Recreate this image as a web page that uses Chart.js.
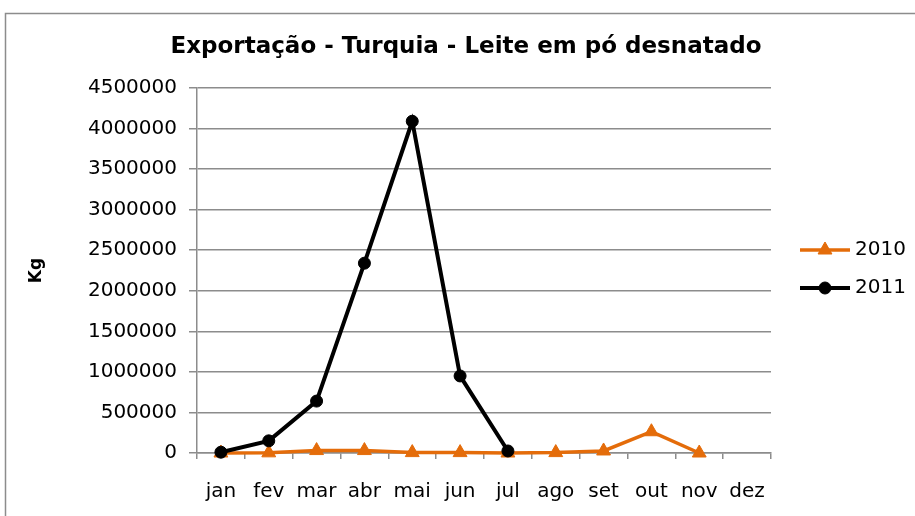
<!DOCTYPE html>
<html>
<head>
<meta charset="utf-8">
<script src="https://cdn.jsdelivr.net/npm/chart.js@4/dist/chart.umd.min.js"></script>
<style>
html,body{margin:0;padding:0;background:#fff;}
#wrap{position:relative;width:915px;height:516px;}
</style>
</head>
<body>
<div id="wrap"><canvas id="c"></canvas></div>
<script>
const months = ["jan","fev","mar","abr","mai","jun","jul","ago","set","out","nov","dez"];
const series2010 = [0, 2000, 30000, 30000, 5000, 5000, 0, 5000, 25000, 262000, 0, null];
const series2011 = [10000, 150000, 640000, 2340000, 4090000, 950000, 25000, null, null, null, null, null];
const yTicks = [0,500000,1000000,1500000,2000000,2500000,3000000,3500000,4000000,4500000];
const titleText = "Exportação - Turquia - Leite em pó desnatado";
const yTitle = "Kg";

const ORANGE = "#E46C0A";
const FONT = "'DejaVu Sans', sans-serif";

const framePlugin = {
  id: "frame",
  beforeDraw(chart) {
    const ctx = chart.ctx;
    ctx.save();
    ctx.fillStyle = "#fff";
    ctx.fillRect(0, 0, chart.width, chart.height);
    ctx.strokeStyle = "#8c8c8c";
    ctx.lineWidth = 1.5;
    ctx.strokeRect(5.5, 13.5, 1200, 1200);
    ctx.fillStyle = "#000";
    ctx.font = "bold 23px " + FONT;
    ctx.textAlign = "center";
    ctx.textBaseline = "middle";
    ctx.fillText(titleText, 466, 47);
    ctx.restore();
  }
};

const legendPlugin = {
  id: "customLegend",
  afterDraw(chart) {
    const ctx = chart.ctx;
    const items = [
      {ds: chart.data.datasets[0], y: 250},
      {ds: chart.data.datasets[1], y: 288}
    ];
    ctx.save();
    items.forEach(it => {
      const ds = it.ds;
      ctx.strokeStyle = ds.borderColor;
      ctx.lineWidth = ds.borderWidth;
      ctx.beginPath();
      ctx.moveTo(800, it.y);
      ctx.lineTo(850, it.y);
      ctx.stroke();
      ctx.fillStyle = ds.pointBackgroundColor;
      ctx.strokeStyle = ds.pointBorderColor;
      ctx.lineWidth = 1;
      Chart.helpers.drawPoint(ctx, {
        pointStyle: ds.pointStyle,
        radius: ds.pointRadius,
        rotation: 0,
        borderWidth: 1
      }, 825, it.y);
      ctx.fillStyle = "#000";
      ctx.font = "20px " + FONT;
      ctx.textBaseline = "middle";
      ctx.textAlign = "left";
      ctx.fillText(ds.label, 855, it.y);
    });
    ctx.restore();
  }
};

new Chart(document.getElementById("c"), {
  type: "line",
  data: {
    labels: months,
    datasets: [
      {
        label: "2010",
        data: series2010,
        borderColor: ORANGE,
        backgroundColor: ORANGE,
        pointBackgroundColor: ORANGE,
        pointBorderColor: ORANGE,
        borderWidth: 3.5,
        pointStyle: "triangle",
        pointRadius: 8,
        pointBorderWidth: 1,
        tension: 0,
        spanGaps: false,
        clip: false,
        order: 1
      },
      {
        label: "2011",
        data: series2011,
        borderColor: "#000",
        backgroundColor: "#000",
        pointBackgroundColor: "#000",
        pointBorderColor: "#000",
        borderWidth: 4,
        pointStyle: "circle",
        pointRadius: 6,
        pointBorderWidth: 1,
        tension: 0,
        spanGaps: false,
        clip: false,
        order: 0
      }
    ]
  },
  options: {
    responsive: true,
    maintainAspectRatio: false,
    animation: false,
    events: [],
    layout: { padding: { top: 88, left: 26, right: 144, bottom: 0 } },
    plugins: {
      legend: { display: false },
      tooltip: { enabled: false },
      title: { display: false }
    },
    scales: {
      x: {
        offset: true,
        grid: {
          offset: true,
          drawOnChartArea: false,
          drawTicks: true,
          tickLength: 6,
          color: "#8c8c8c",
          lineWidth: 1.5
        },
        border: { display: true, color: "#8c8c8c", width: 1.5 },
        ticks: {
          color: "#000",
          font: { family: FONT, size: 20 },
          padding: 21,
          maxRotation: 0,
          autoSkip: false
        },
        afterFit(scale) { scale.height = 63; }
      },
      y: {
        min: 0,
        max: 4500000,
        afterBuildTicks(scale) { scale.ticks = yTicks.map(v => ({value: v})); },
        grid: {
          color: "#8c8c8c",
          lineWidth: 1.5,
          tickLength: 8,
          drawTicks: true
        },
        border: { display: true, color: "#8c8c8c", width: 1.5 },
        ticks: {
          color: "#000",
          font: { family: FONT, size: 20 },
          padding: 12,
          callback: v => String(v)
        },
        title: {
          display: true,
          text: yTitle,
          color: "#000",
          font: { family: FONT, size: 17, weight: "bold" },
          padding: { top: 0, bottom: 0 }
        },
        afterFit(scale) { scale.width = 171; }
      }
    }
  },
  plugins: [framePlugin, legendPlugin]
});
</script>
</body>
</html>
